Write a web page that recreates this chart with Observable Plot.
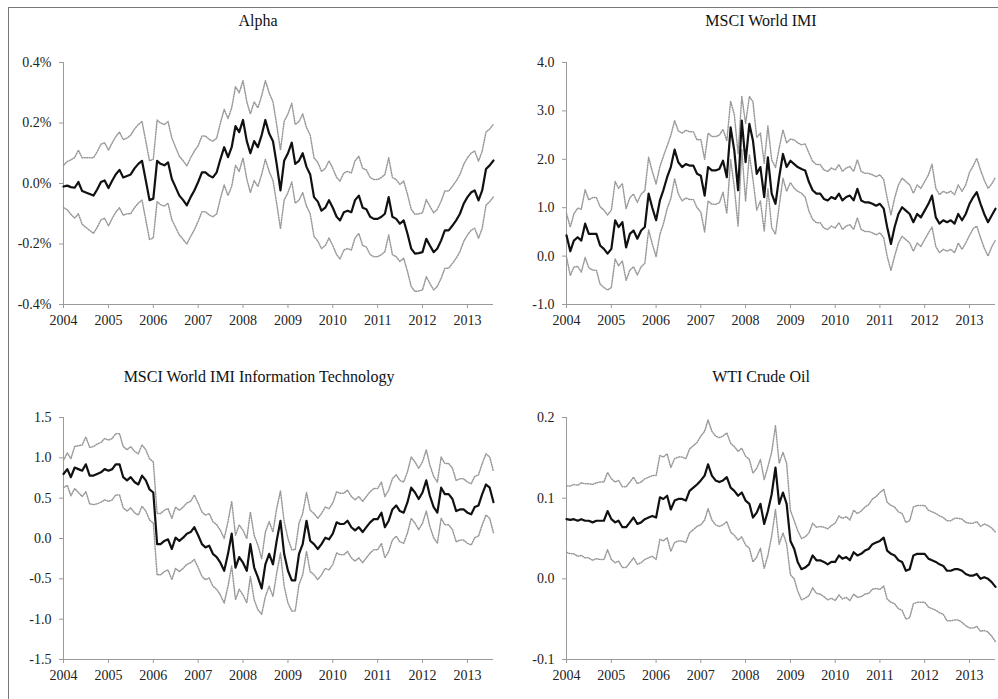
<!DOCTYPE html>
<html><head><meta charset="utf-8">
<script src="https://cdn.jsdelivr.net/npm/d3@7"></script>
<script src="https://cdn.jsdelivr.net/npm/@observablehq/plot@0.6"></script>
<style>
html,body{margin:0;padding:0;background:#fff;width:998px;height:699px;overflow:hidden}
#root{position:relative;width:998px;height:699px;font-family:"Liberation Serif","Times New Roman",serif}
.frame{position:absolute;left:8px;top:7px;width:995px;height:700px;border-left:1px solid #777;border-top:1px solid #777}
.title{position:absolute;font-size:16px;color:#111;transform:translateX(-50%);white-space:nowrap;line-height:16px}
svg.panel{position:absolute;font-family:"Liberation Serif","Times New Roman",serif !important;font-size:14px !important;background:transparent !important}
svg.panel text{font-family:"Liberation Serif","Times New Roman",serif !important;font-size:14px !important}
</style></head><body><div id="root"><div class="frame"></div></div>
<script>
const months = [
"2004-01","2004-02","2004-03","2004-04","2004-05","2004-06","2004-07","2004-08","2004-09","2004-10","2004-11","2004-12",
"2005-01","2005-02","2005-03","2005-04","2005-05","2005-06","2005-07","2005-08","2005-09","2005-10","2005-11","2005-12",
"2006-01","2006-02","2006-03","2006-04","2006-05","2006-06","2006-07","2006-08","2006-09","2006-10","2006-11","2006-12",
"2007-01","2007-02","2007-03","2007-04","2007-05","2007-06","2007-07","2007-08","2007-09","2007-10","2007-11","2007-12",
"2008-01","2008-02","2008-03","2008-04","2008-05","2008-06","2008-07","2008-08","2008-09","2008-10","2008-11","2008-12",
"2009-01","2009-02","2009-03","2009-04","2009-05","2009-06","2009-07","2009-08","2009-09","2009-10","2009-11","2009-12",
"2010-01","2010-02","2010-03","2010-04","2010-05","2010-06","2010-07","2010-08","2010-09","2010-10","2010-11","2010-12",
"2011-01","2011-02","2011-03","2011-04","2011-05","2011-06","2011-07","2011-08","2011-09","2011-10","2011-11","2011-12",
"2012-01","2012-02","2012-03","2012-04","2012-05","2012-06","2012-07","2012-08","2012-09","2012-10","2012-11","2012-12",
"2013-01","2013-02","2013-03","2013-04","2013-05","2013-06","2013-07","2013-08"];
const yearTicks = ["2004","2005","2006","2007","2008","2009","2010","2011","2012","2013"];

const titles = ["Alpha","MSCI World IMI","MSCI World IMI Information Technology","WTI Crude Oil"];

const alphaTicks = [-0.4,-0.2,0,0.2,0.4];
const alphaMid = [
-0.010,-0.007,-0.012,-0.014,0.005,-0.025,-0.030,-0.035,-0.040,-0.020,0.005,0.010,
-0.015,0.010,0.030,0.045,0.020,0.025,0.030,0.050,0.065,0.075,0.010,-0.055,
-0.050,0.075,0.065,0.060,0.070,0.015,-0.012,-0.040,-0.055,-0.072,-0.045,-0.023,
0.005,0.037,0.037,0.026,0.020,0.037,0.080,0.120,0.087,0.120,0.190,0.170,
0.210,0.140,0.100,0.140,0.120,0.160,0.210,0.165,0.140,0.065,-0.023,0.075,
0.100,0.135,0.065,0.075,0.100,0.055,0.030,-0.045,-0.060,-0.090,-0.080,-0.055,
-0.080,-0.110,-0.122,-0.095,-0.090,-0.095,-0.055,-0.040,-0.080,-0.085,-0.110,-0.117,
-0.117,-0.110,-0.100,-0.045,-0.110,-0.117,-0.133,-0.122,-0.166,-0.215,-0.232,-0.230,
-0.227,-0.183,-0.205,-0.227,-0.215,-0.188,-0.155,-0.155,-0.139,-0.122,-0.100,-0.067,
-0.045,-0.029,-0.023,-0.056,-0.023,0.048,0.060,0.076];
const alphaUpper = [
0.060,0.073,0.078,0.086,0.110,0.085,0.085,0.085,0.085,0.105,0.130,0.135,
0.110,0.135,0.155,0.170,0.145,0.150,0.160,0.180,0.195,0.205,0.140,0.075,
0.080,0.210,0.200,0.195,0.205,0.150,0.120,0.090,0.075,0.058,0.085,0.107,
0.125,0.157,0.157,0.146,0.140,0.150,0.200,0.245,0.215,0.250,0.320,0.300,
0.340,0.270,0.230,0.270,0.250,0.290,0.340,0.300,0.270,0.195,0.110,0.205,
0.230,0.265,0.195,0.205,0.230,0.185,0.160,0.085,0.070,0.040,0.050,0.075,
0.050,0.020,0.008,0.035,0.040,0.035,0.075,0.090,0.050,0.045,0.020,0.013,
0.013,0.020,0.030,0.085,0.020,0.013,-0.003,0.008,-0.036,-0.085,-0.102,-0.100,
-0.097,-0.053,-0.075,-0.097,-0.085,-0.058,-0.025,-0.025,-0.009,0.008,0.030,0.063,
0.085,0.101,0.107,0.074,0.107,0.170,0.180,0.196];
const alphaLower = [
-0.080,-0.087,-0.102,-0.114,-0.100,-0.135,-0.145,-0.155,-0.165,-0.145,-0.120,-0.115,
-0.140,-0.115,-0.095,-0.080,-0.105,-0.100,-0.100,-0.080,-0.065,-0.055,-0.120,-0.185,
-0.180,-0.060,-0.070,-0.075,-0.065,-0.120,-0.145,-0.170,-0.185,-0.200,-0.175,-0.153,
-0.125,-0.093,-0.093,-0.104,-0.110,-0.100,-0.050,-0.005,-0.040,-0.010,0.060,0.040,
0.085,0.015,-0.030,0.010,-0.010,0.030,0.080,0.040,0.010,-0.065,-0.150,-0.055,
-0.030,0.005,-0.065,-0.055,-0.030,-0.075,-0.100,-0.175,-0.190,-0.215,-0.205,-0.180,
-0.205,-0.235,-0.250,-0.220,-0.215,-0.220,-0.180,-0.165,-0.205,-0.210,-0.235,-0.242,
-0.242,-0.235,-0.225,-0.170,-0.235,-0.242,-0.258,-0.247,-0.291,-0.340,-0.357,-0.355,
-0.352,-0.308,-0.330,-0.352,-0.340,-0.313,-0.280,-0.280,-0.264,-0.247,-0.225,-0.192,
-0.170,-0.154,-0.148,-0.181,-0.148,-0.072,-0.060,-0.044];

const msciTicks = [-1,0,1,2,3,4];
const msciMid = [
0.43,0.10,0.32,0.39,0.32,0.67,0.46,0.46,0.46,0.22,0.15,0.05,
0.15,0.74,0.60,0.70,0.18,0.46,0.53,0.36,0.53,0.60,1.29,1.00,
0.74,1.15,1.36,1.63,1.84,2.20,1.94,1.84,1.90,1.87,1.87,1.70,
1.66,1.25,1.84,1.77,1.77,1.80,1.97,1.63,2.66,2.18,1.36,2.80,
1.94,2.73,2.39,1.70,1.84,1.22,2.04,1.29,1.08,1.63,2.11,1.84,
1.97,1.90,1.84,1.80,1.77,1.53,1.36,1.29,1.29,1.18,1.15,1.22,
1.18,1.29,1.15,1.22,1.25,1.15,1.39,1.15,1.11,1.11,1.08,1.04,
1.08,0.98,0.60,0.25,0.60,0.87,1.01,0.94,0.87,0.70,0.87,0.80,
0.94,1.08,1.25,0.80,0.67,0.74,0.70,0.74,0.67,0.87,0.74,0.87,
1.08,1.22,1.32,1.08,0.87,0.70,0.84,0.98];
const msciUpper = [
0.88,0.60,0.87,0.99,0.97,1.37,1.16,1.21,1.21,1.02,0.95,0.85,
0.95,1.54,1.40,1.50,0.98,1.21,1.28,1.11,1.28,1.35,2.04,1.75,
1.49,1.85,2.06,2.28,2.49,2.80,2.59,2.54,2.60,2.57,2.57,2.40,
2.41,2.00,2.54,2.47,2.47,2.50,2.62,2.38,3.20,2.93,2.11,3.30,
2.74,3.30,3.19,2.45,2.54,1.92,2.69,1.99,1.83,2.23,2.61,2.34,
2.42,2.40,2.34,2.30,2.32,2.13,1.96,1.89,1.89,1.78,1.75,1.82,
1.78,1.89,1.75,1.82,1.85,1.75,1.99,1.75,1.71,1.71,1.68,1.64,
1.68,1.58,1.20,0.85,1.20,1.47,1.61,1.54,1.47,1.30,1.47,1.40,
1.54,1.68,1.90,1.40,1.27,1.34,1.30,1.34,1.27,1.47,1.34,1.47,
1.73,1.87,2.02,1.78,1.57,1.40,1.49,1.63];
const msciLower = [
-0.02,-0.40,-0.23,-0.21,-0.33,-0.03,-0.24,-0.29,-0.29,-0.58,-0.65,-0.70,
-0.65,-0.06,-0.20,-0.10,-0.50,-0.29,-0.22,-0.39,-0.22,-0.15,0.54,0.25,
-0.01,0.45,0.66,0.98,1.19,1.60,1.29,1.14,1.20,1.17,1.17,1.00,
0.91,0.50,1.14,1.07,1.07,1.10,1.32,0.88,2.00,1.43,0.61,2.20,
1.14,2.10,1.59,0.95,1.14,0.52,1.39,0.59,0.45,1.03,1.61,1.34,
1.52,1.40,1.34,1.30,1.22,0.93,0.76,0.69,0.69,0.58,0.55,0.62,
0.58,0.69,0.55,0.62,0.65,0.55,0.79,0.55,0.51,0.51,0.48,0.44,
0.48,0.38,0.00,-0.30,0.00,0.27,0.41,0.34,0.27,0.10,0.27,0.20,
0.34,0.48,0.60,0.20,0.07,0.14,0.10,0.14,0.07,0.27,0.14,0.27,
0.43,0.57,0.62,0.38,0.17,0.00,0.19,0.33];

const itTicks = [-1.5,-1,-0.5,0,0.5,1,1.5];
const itMid = [
0.80,0.86,0.76,0.88,0.86,0.84,0.92,0.78,0.78,0.80,0.82,0.86,
0.84,0.86,0.92,0.92,0.76,0.72,0.76,0.70,0.67,0.78,0.72,0.61,
0.57,-0.07,-0.07,-0.03,-0.01,-0.13,0.01,-0.03,0.01,0.06,0.08,0.14,
0.04,-0.07,-0.11,-0.09,-0.19,-0.23,-0.30,-0.40,-0.19,0.06,-0.36,-0.23,
-0.30,-0.40,-0.07,-0.36,-0.48,-0.62,-0.32,-0.19,-0.32,-0.03,0.22,-0.19,
-0.40,-0.52,-0.52,-0.19,-0.07,0.22,-0.03,-0.07,-0.13,-0.07,0.01,-0.01,
0.06,0.20,0.18,0.18,0.22,0.14,0.10,0.14,0.08,0.14,0.20,0.24,
0.24,0.32,0.14,0.22,0.36,0.41,0.34,0.32,0.45,0.63,0.57,0.49,
0.57,0.72,0.53,0.39,0.32,0.63,0.55,0.55,0.49,0.34,0.36,0.36,
0.32,0.30,0.39,0.41,0.55,0.67,0.63,0.45];
const itUpper = [
0.97,1.06,0.99,1.14,1.15,1.16,1.26,1.13,1.14,1.17,1.19,1.24,
1.22,1.24,1.30,1.30,1.14,1.10,1.14,1.08,1.05,1.16,1.10,0.99,
0.95,0.31,0.31,0.35,0.37,0.25,0.39,0.35,0.39,0.44,0.46,0.54,
0.44,0.33,0.29,0.31,0.21,0.17,0.10,0.00,0.21,0.46,0.04,0.17,
0.10,0.00,0.33,0.04,-0.08,-0.25,0.08,0.21,0.08,0.37,0.59,0.21,
0.00,-0.14,-0.14,0.19,0.31,0.57,0.35,0.31,0.25,0.31,0.39,0.37,
0.44,0.58,0.56,0.56,0.60,0.52,0.48,0.52,0.46,0.52,0.58,0.62,
0.62,0.70,0.52,0.60,0.74,0.79,0.72,0.70,0.83,1.01,0.95,0.87,
0.95,1.10,0.91,0.77,0.70,1.01,0.93,0.93,0.87,0.72,0.74,0.74,
0.70,0.68,0.77,0.79,0.93,1.05,1.01,0.83];
const itLower = [
0.63,0.66,0.53,0.62,0.57,0.52,0.58,0.43,0.42,0.43,0.45,0.48,
0.46,0.48,0.54,0.54,0.38,0.34,0.38,0.32,0.29,0.40,0.34,0.23,
0.19,-0.45,-0.45,-0.41,-0.39,-0.51,-0.37,-0.41,-0.37,-0.32,-0.30,-0.26,
-0.36,-0.47,-0.51,-0.49,-0.59,-0.63,-0.70,-0.80,-0.59,-0.34,-0.76,-0.63,
-0.70,-0.80,-0.47,-0.76,-0.88,-0.94,-0.72,-0.59,-0.72,-0.43,-0.18,-0.59,
-0.80,-0.90,-0.90,-0.57,-0.45,-0.16,-0.41,-0.45,-0.51,-0.45,-0.37,-0.39,
-0.32,-0.18,-0.20,-0.20,-0.16,-0.24,-0.28,-0.24,-0.30,-0.24,-0.18,-0.14,
-0.14,-0.06,-0.24,-0.16,-0.02,0.03,-0.04,-0.06,0.07,0.25,0.19,0.11,
0.19,0.34,0.15,0.01,-0.06,0.25,0.17,0.17,0.11,-0.04,-0.02,-0.02,
-0.06,-0.08,0.01,0.03,0.17,0.29,0.25,0.07];

const wtiTicks = [-0.1,0,0.1,0.2];
const wtiMid = [
0.074,0.073,0.074,0.072,0.074,0.072,0.072,0.070,0.072,0.072,0.072,0.084,
0.074,0.070,0.072,0.064,0.064,0.070,0.076,0.068,0.070,0.074,0.076,0.078,
0.076,0.101,0.099,0.103,0.086,0.097,0.099,0.099,0.097,0.109,0.113,0.117,
0.122,0.128,0.142,0.128,0.122,0.120,0.122,0.126,0.113,0.109,0.103,0.107,
0.097,0.093,0.076,0.082,0.093,0.068,0.084,0.105,0.138,0.093,0.107,0.093,
0.047,0.037,0.021,0.012,0.014,0.018,0.029,0.023,0.023,0.021,0.018,0.021,
0.021,0.029,0.025,0.027,0.023,0.033,0.029,0.031,0.035,0.037,0.043,0.045,
0.047,0.051,0.035,0.031,0.029,0.023,0.021,0.010,0.012,0.029,0.031,0.031,
0.031,0.025,0.023,0.021,0.018,0.016,0.010,0.010,0.012,0.012,0.010,0.006,
0.004,0.004,0.006,0.000,0.002,0.000,-0.004,-0.010];
const wtiUpper = [
0.115,0.115,0.117,0.116,0.119,0.118,0.118,0.117,0.119,0.120,0.120,0.132,
0.124,0.120,0.122,0.114,0.114,0.120,0.126,0.118,0.120,0.124,0.126,0.128,
0.128,0.153,0.151,0.155,0.138,0.149,0.151,0.151,0.149,0.161,0.165,0.169,
0.177,0.183,0.197,0.183,0.177,0.175,0.177,0.181,0.168,0.164,0.158,0.162,
0.152,0.148,0.131,0.137,0.148,0.123,0.139,0.157,0.190,0.143,0.157,0.143,
0.085,0.072,0.060,0.050,0.052,0.057,0.069,0.064,0.065,0.064,0.062,0.066,
0.069,0.078,0.075,0.077,0.073,0.085,0.081,0.084,0.089,0.092,0.099,0.102,
0.107,0.111,0.095,0.091,0.089,0.083,0.081,0.070,0.072,0.089,0.091,0.091,
0.091,0.085,0.083,0.081,0.078,0.076,0.072,0.072,0.075,0.075,0.074,0.070,
0.069,0.069,0.071,0.065,0.068,0.066,0.063,0.058];
const wtiLower = [
0.033,0.031,0.031,0.028,0.029,0.026,0.026,0.023,0.025,0.024,0.024,0.036,
0.024,0.020,0.022,0.014,0.014,0.020,0.026,0.018,0.020,0.024,0.026,0.028,
0.024,0.049,0.047,0.051,0.034,0.045,0.047,0.047,0.045,0.057,0.061,0.065,
0.067,0.073,0.087,0.073,0.067,0.065,0.067,0.071,0.058,0.054,0.048,0.052,
0.042,0.038,0.021,0.027,0.038,0.013,0.029,0.053,0.086,0.043,0.057,0.043,
0.005,0.000,-0.015,-0.026,-0.024,-0.021,-0.011,-0.018,-0.019,-0.022,-0.026,-0.024,
-0.027,-0.020,-0.025,-0.023,-0.027,-0.019,-0.023,-0.022,-0.019,-0.018,-0.013,-0.012,
-0.013,-0.009,-0.025,-0.029,-0.031,-0.037,-0.039,-0.050,-0.048,-0.031,-0.029,-0.029,
-0.029,-0.035,-0.037,-0.039,-0.042,-0.044,-0.052,-0.052,-0.051,-0.051,-0.054,-0.058,
-0.061,-0.061,-0.059,-0.065,-0.064,-0.066,-0.071,-0.078];

const parseM = d3.utcParse("%Y-%m");
const parseY = d3.utcParse("%Y");
const dates = months.map(parseM);
const xTicks = yearTicks.map(parseY);
const xDomain = [dates[0], dates[dates.length - 1]];
const root = document.getElementById("root");

function panel(o) {
  const data = dates.map((d, i) => ({date: d, mid: o.mid[i], up: o.up[i], lo: o.lo[i]}));
  const yDomain = [o.ticks[0], o.ticks[o.ticks.length - 1]];
  const chart = Plot.plot({
    width: 499, height: 300,
    marginLeft: o.ml, marginRight: o.mr, marginTop: 22, marginBottom: 36,
    style: 'font-family:"Liberation Serif","Times New Roman",serif;font-size:14px;color:#222;background:transparent;overflow:visible;',
    x: {type: "utc", domain: xDomain},
    y: {domain: yDomain},
    marks: [
      Plot.ruleX([xDomain[0]], {stroke: "#9a9a9a"}),
      Plot.ruleY([yDomain[0]], {stroke: "#9a9a9a"}),
      Plot.axisY({ticks: o.ticks, tickFormat: o.fmt, tickSize: 4, tickPadding: 8, stroke: "#9a9a9a", fill: "#222", label: null}),
      Plot.axisX({ticks: xTicks, tickFormat: d3.utcFormat("%Y"), tickSize: 4, tickPadding: 7, stroke: "#9a9a9a", fill: "#222", label: null}),
      Plot.line(data, {x: "date", y: "up", stroke: "#999", strokeWidth: 1.5, strokeDasharray: "1,1.5"}),
      Plot.line(data, {x: "date", y: "lo", stroke: "#999", strokeWidth: 1.5, strokeDasharray: "1,1.5"}),
      Plot.line(data, {x: "date", y: "mid", stroke: "#111", strokeWidth: 2.2})
    ]
  });
  chart.classList.add("panel");
  chart.style.left = o.left + "px";
  chart.style.top = o.top + "px";
  root.appendChild(chart);
  const t = document.createElement("div");
  t.className = "title";
  t.textContent = o.title;
  t.style.left = o.tx + "px";
  t.style.top = o.ty + "px";
  root.appendChild(t);
}

const f1 = d => d.toFixed(1);
panel({title: titles[0], left: 0, top: 40, ml: 63, mr: 6, tx: 258, ty: 13, ticks: alphaTicks, fmt: d => d.toFixed(1) + "%", mid: alphaMid, up: alphaUpper, lo: alphaLower});
panel({title: titles[1], left: 499, top: 40, ml: 67, mr: 3, tx: 761, ty: 13, ticks: msciTicks, fmt: f1, mid: msciMid, up: msciUpper, lo: msciLower});
panel({title: titles[2], left: 0, top: 395, ml: 63, mr: 6, tx: 259, ty: 369, ticks: itTicks, fmt: f1, mid: itMid, up: itUpper, lo: itLower});
panel({title: titles[3], left: 499, top: 395, ml: 67, mr: 3, tx: 761, ty: 369, ticks: wtiTicks, fmt: f1, mid: wtiMid, up: wtiUpper, lo: wtiLower});
</script>
</body></html>
